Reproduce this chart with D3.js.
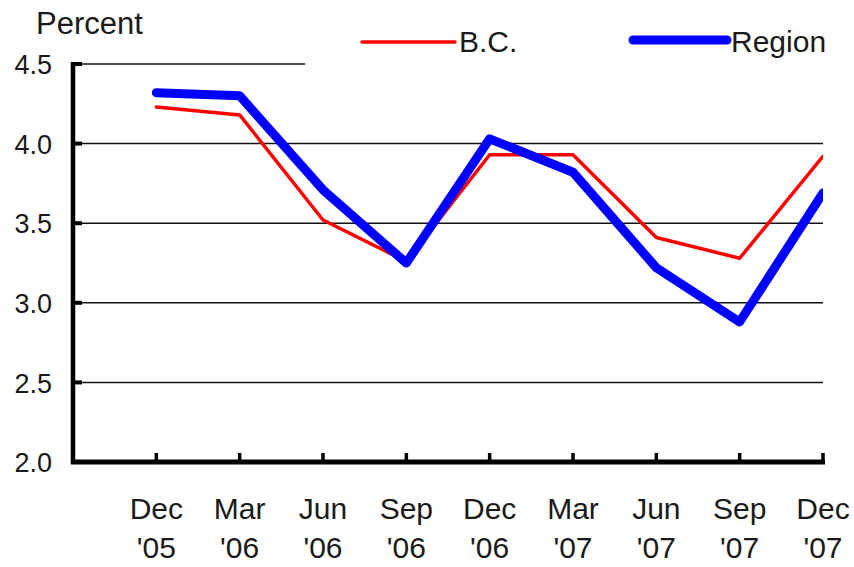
<!DOCTYPE html>
<html>
<head>
<meta charset="utf-8">
<script src="https://cdn.jsdelivr.net/npm/d3@7"></script>
<style>
  html, body { margin: 0; padding: 0; background: #fff; }
  svg { display: block; }
  text { font-family: "Liberation Sans", Arial, sans-serif; fill: #1a1a1a; }
</style>
</head>
<body>
<svg id="chart" width="854" height="567"></svg>
<script>
// Quarterly rate, percent
const quarters = ["Dec", "Mar", "Jun", "Sep", "Dec", "Mar", "Jun", "Sep", "Dec"];
const years    = ["'05", "'06", "'06", "'06", "'06", "'07", "'07", "'07", "'07"];
const bcValues     = [4.23, 4.18, 3.52, 3.26, 3.93, 3.93, 3.41, 3.28, 3.92];
const regionValues = [4.32, 4.30, 3.71, 3.25, 4.03, 3.82, 3.22, 2.88, 3.69];
const yTicks = [2.0, 2.5, 3.0, 3.5, 4.0, 4.5];
const seriesNames = ["B.C.", "Region"];

const svg = d3.select("#chart");
const plotLeft = 73, plotRight = 823, plotTop = 64, plotBottom = 462;

// Category positions: the first point sits one step in from the axis, the last on the right edge
const x = d3.scaleLinear().domain([-1, quarters.length - 1]).range([plotLeft, plotRight]);
const y = d3.scaleLinear().domain([2, 4.5]).range([plotBottom, plotTop]);

// Horizontal gridlines
svg.append("g").selectAll("line")
  .data(yTicks.filter(v => v > 2))
  .join("line")
  .attr("x1", plotLeft)
  .attr("x2", d => d === 4.5 ? 305 : plotRight)
  .attr("y1", d => y(d)).attr("y2", d => y(d))
  .attr("stroke", "#111").attr("stroke-width", 1.5);

// Y axis labels and inward ticks
const yAxis = d3.axisLeft(y).tickValues(yTicks).tickFormat(d3.format(".1f")).tickSize(0).tickPadding(21);
const gy = svg.append("g").attr("transform", `translate(${plotLeft},0)`).call(yAxis);
gy.select(".domain").remove();
gy.selectAll("text").attr("font-size", 27).attr("dy", "0.36em")
  .style("font-family", '"Liberation Sans", Arial, sans-serif').attr("fill", "#1a1a1a");
svg.append("g").selectAll("line")
  .data(yTicks.filter(v => v > 2))
  .join("line")
  .attr("x1", plotLeft).attr("x2", plotLeft + 9)
  .attr("y1", d => y(d)).attr("y2", d => y(d))
  .attr("stroke", "#000").attr("stroke-width", 4);

// X axis ticks pointing up into the plot
svg.append("g").selectAll("line")
  .data(d3.range(quarters.length))
  .join("line")
  .attr("x1", d => x(d)).attr("x2", d => x(d))
  .attr("y1", plotBottom).attr("y2", plotBottom - 9)
  .attr("stroke", "#000").attr("stroke-width", 3.5);

// Axis lines
svg.append("line").attr("x1", plotLeft).attr("x2", plotLeft).attr("y1", plotTop - 2).attr("y2", plotBottom + 2)
  .attr("stroke", "#000").attr("stroke-width", 4.5);
svg.append("line").attr("x1", plotLeft - 2).attr("x2", plotRight + 2).attr("y1", plotBottom).attr("y2", plotBottom)
  .attr("stroke", "#000").attr("stroke-width", 5);

// X labels, two lines each
const xl = svg.append("g").selectAll("text")
  .data(d3.range(quarters.length))
  .join("text")
  .attr("text-anchor", "middle")
  .attr("font-size", 30);
xl.append("tspan").attr("x", d => x(d)).attr("y", 519).text(d => quarters[d]);
xl.append("tspan").attr("x", d => x(d)).attr("y", 558).text(d => years[d]);

// Series lines, clipped at the right edge of the plot
svg.append("clipPath").attr("id", "plotClip")
  .append("rect").attr("x", 0).attr("y", 0).attr("width", plotRight).attr("height", 567);

const line = d3.line().x((d, i) => x(i)).y(d => y(d));
const plot = svg.append("g").attr("clip-path", "url(#plotClip)");
plot.append("path").datum(bcValues).attr("d", line)
  .attr("fill", "none").attr("stroke", "#ff0000").attr("stroke-width", 3.5)
  .attr("stroke-linejoin", "round").attr("stroke-linecap", "round");
plot.append("path").datum(regionValues).attr("d", line)
  .attr("fill", "none").attr("stroke", "#0000ff").attr("stroke-width", 9)
  .attr("stroke-linejoin", "round").attr("stroke-linecap", "round");

// Axis title
svg.append("text").attr("x", 36).attr("y", 34).attr("font-size", 31).text("Percent");

// Legend
const legend = [
  { name: seriesNames[0], color: "#ff0000", w: 3.5, x1: 362, x2: 455, y: 42 },
  { name: seriesNames[1], color: "#0000ff", w: 9, x1: 633, x2: 727, y: 40 }
];
const lg = svg.append("g").selectAll("g").data(legend).join("g");
lg.append("line")
  .attr("x1", d => d.x1).attr("x2", d => d.x2).attr("y1", d => d.y).attr("y2", d => d.y)
  .attr("stroke", d => d.color).attr("stroke-width", d => d.w).attr("stroke-linecap", "round");
lg.append("text").attr("x", d => d.x2 + 4).attr("y", 52).attr("font-size", 30).text(d => d.name);
</script>
</body>
</html>
